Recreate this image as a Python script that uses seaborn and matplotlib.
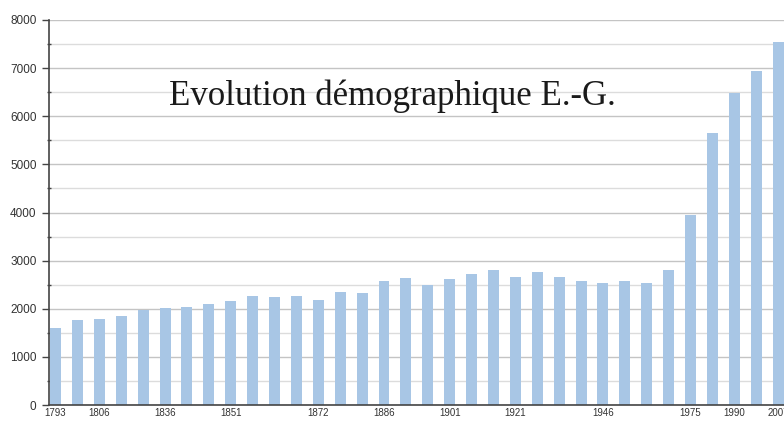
import matplotlib
matplotlib.use("Agg")
import matplotlib.pyplot as plt
import seaborn as sns
import pandas as pd
from matplotlib.ticker import MultipleLocator

years = ["1793", "1800", "1806", "1821", "1831", "1836", "1841", "1846", "1851",
         "1856", "1861", "1866", "1872", "1876", "1881", "1886", "1891", "1896",
         "1901", "1906", "1911", "1921", "1926", "1931", "1936", "1946", "1954",
         "1962", "1968", "1975", "1982", "1990", "1999", "2007"]
population = [1600, 1767, 1795, 1851, 1977, 2019, 2046, 2103, 2159,
              2270, 2243, 2270, 2187, 2354, 2327, 2579, 2630, 2495,
              2613, 2723, 2806, 2667, 2771, 2667, 2578, 2543, 2578,
              2543, 2806, 3950, 5661, 6493, 6930, 7553]
shown_labels = ["1793", "1806", "1836", "1851", "1872", "1886", "1901",
                "1921", "1946", "1975", "1990", "2007"]
title = "Evolution démographique E.-G."

df = pd.DataFrame({"year": years, "pop": population})

sns.set_theme(style="white")
plt.rcParams["font.family"] = ["Liberation Sans", "DejaVu Sans"]

fig = plt.figure(figsize=(7.84, 4.21), dpi=100)
ax = fig.add_axes([49 / 784, 16 / 421, 1 - 49 / 784, (405 - 20) / 421])

sns.barplot(data=df, x="year", y="pop", order=years, color="#A8C6E5",
            saturation=1, width=0.5, linewidth=0, edgecolor="none", ax=ax)
for p in ax.patches:
    p.set_zorder(2)

ax.set_xlim(-0.3, 33.27)
ax.set_ylim(0, 8000)
ax.yaxis.set_major_locator(MultipleLocator(1000))
ax.yaxis.set_minor_locator(MultipleLocator(500))
ax.grid(axis="y", which="major", color="#c4c4c4", linewidth=1.0, zorder=0)
ax.grid(axis="y", which="minor", color="#dcdcdc", linewidth=1.0, zorder=0)
ax.set_axisbelow(True)

ax.set_xticks(range(len(years)))
ax.set_xticklabels([y if y in shown_labels else "" for y in years],
                   fontsize=7, color="#333333")
ax.tick_params(axis="x", length=0, pad=2)
ax.tick_params(axis="y", which="major", direction="out", length=5, width=1,
               color="#444444", labelsize=8.5, labelcolor="#333333", pad=4, left=True)
ax.tick_params(axis="y", which="minor", direction="inout", length=3, width=1,
               color="#444444", left=True)
ax.set_xlabel("")
ax.set_ylabel("")

for s in ["top", "right"]:
    ax.spines[s].set_visible(False)
for s in ["left", "bottom"]:
    ax.spines[s].set_color("#444444")
    ax.spines[s].set_linewidth(1.2)
    ax.spines[s].set_zorder(4)

ax.text((392 - 49) / 735, 6230, title, transform=ax.get_yaxis_transform(),
        ha="center", va="baseline", fontsize=25, color="#1a1a1a",
        family=["Liberation Serif", "DejaVu Serif"], zorder=5)

fig.savefig("out.png", dpi=100)
